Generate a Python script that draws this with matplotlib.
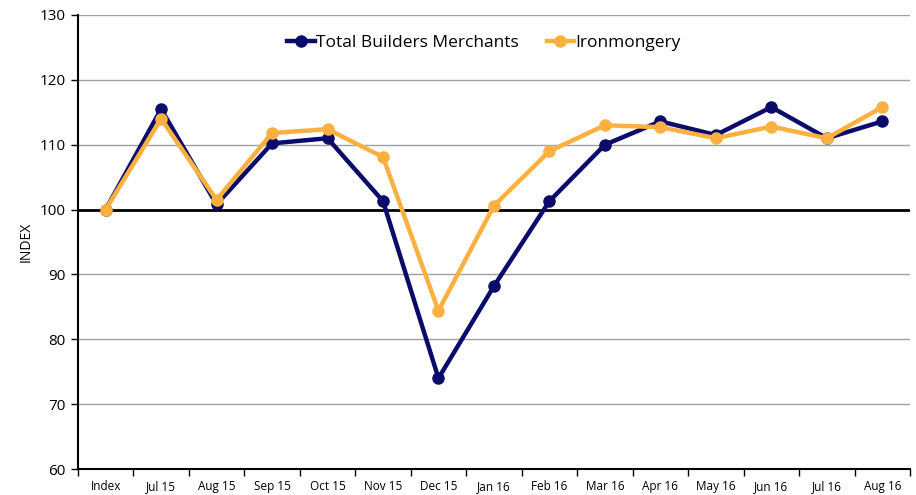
import matplotlib
matplotlib.use("Agg")
import matplotlib.pyplot as plt
import numpy as np

categories = ["Index", "Jul 15", "Aug 15", "Sep 15", "Oct 15", "Nov 15", "Dec 15",
              "Jan 16", "Feb 16", "Mar 16", "Apr 16", "May 16", "Jun 16", "Jul 16", "Aug 16"]
total_builders = [100, 115.5, 100.8, 110.2, 111.0, 101.3, 74.0, 88.2, 101.3, 110.0,
                  113.6, 111.5, 115.8, 111.0, 113.6]
ironmongery = [100, 114.0, 101.5, 111.8, 112.4, 108.1, 84.4, 100.6, 109.0, 113.0,
               112.7, 111.0, 112.8, 111.0, 115.8]

plt.rcParams['font.family'] = ['Open Sans', 'DejaVu Sans']

fig = plt.figure(figsize=(9.16, 4.95), dpi=100)
ax = fig.add_axes([0.085, 0.0525, 0.9085, 0.9172])

x = np.arange(len(categories))
navy = "#0b0b6b"
orange = "#fbb040"
ax.plot(x, total_builders, color=navy, lw=3.2, marker='o', ms=8, label="Total Builders Merchants", zorder=4)
ax.plot(x, ironmongery, color=orange, lw=3.2, marker='o', ms=8, label="Ironmongery", zorder=5)

ax.set_xlim(-0.5, len(categories) - 0.5)
ax.set_ylim(60, 130)
ax.set_yticks(range(60, 131, 10))
for v in range(70, 131, 10):
    if v != 100:
        ax.axhline(v, color="#a0a0a0", lw=1, zorder=1)
ax.axhline(100, color="black", lw=2, zorder=2)

ax.set_xticks(x)
ax.set_xticklabels(categories, fontsize=8.5)
ax.set_xticks(np.arange(-0.5, len(categories), 1), minor=True)
ax.tick_params(axis='x', which='major', length=0, pad=8)
ax.tick_params(axis='x', which='minor', length=5, width=1, direction='out')
ax.tick_params(axis='y', labelsize=11, length=5, width=1, direction='out', pad=4)

for s in ['top', 'right']:
    ax.spines[s].set_visible(False)
ax.spines['left'].set_linewidth(1.5)
ax.spines['bottom'].set_linewidth(1.5)

ax.set_ylabel("INDEX", fontsize=10, labelpad=4)

leg = ax.legend(loc='upper center', bbox_to_anchor=(0.488, 0.99), ncol=2, frameon=False,
                fontsize=12.5, handlelength=1.6, handletextpad=0.05, columnspacing=1.6)

fig.savefig("out.png", dpi=100)
